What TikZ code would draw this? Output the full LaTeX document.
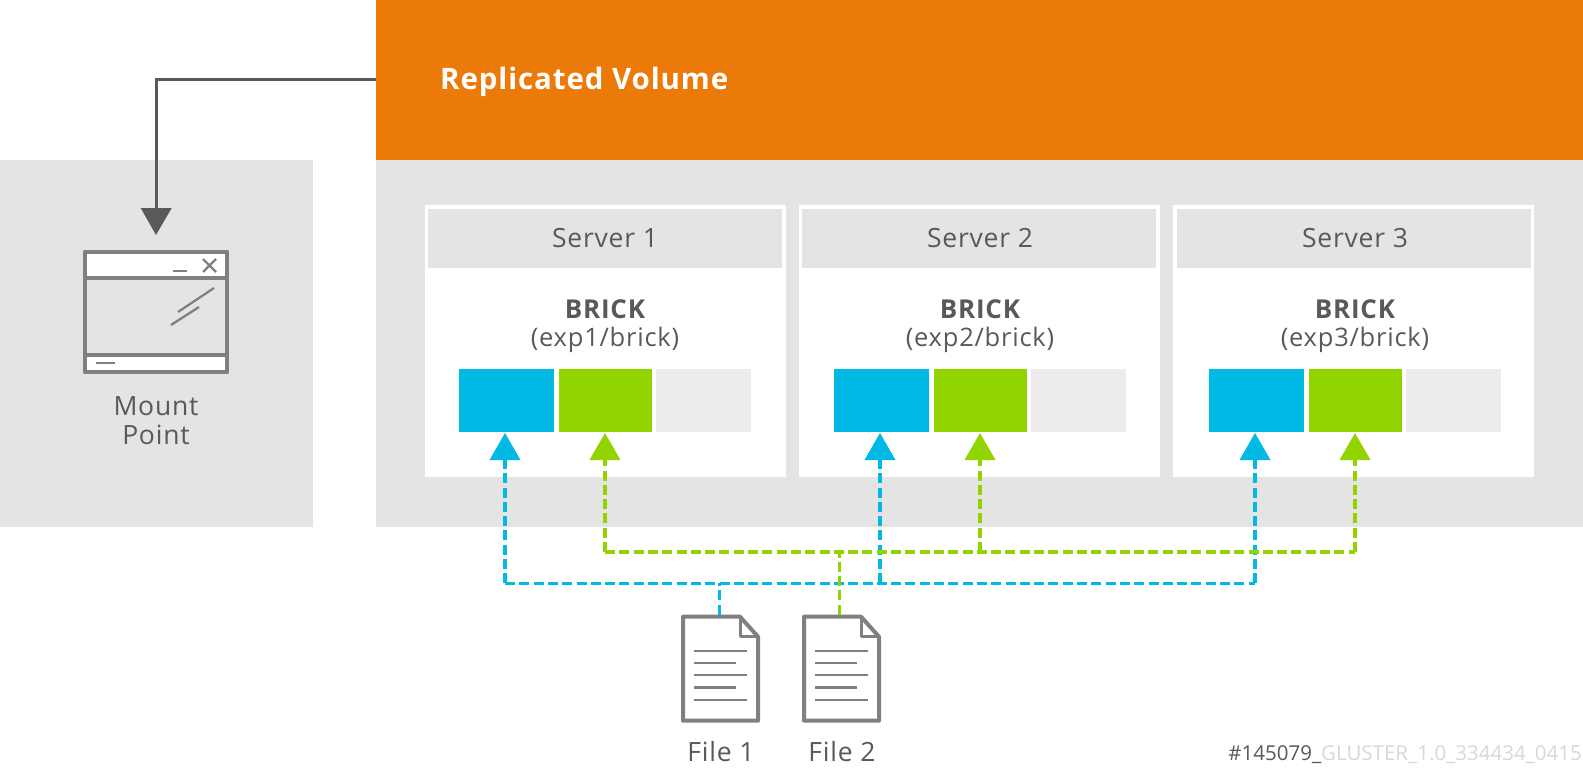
\documentclass[tikz,border=0pt]{standalone}
\usepackage{fontspec}
\setmainfont{Open Sans}
\newfontfamily\wide[LetterSpace=3]{Open Sans}
\definecolor{panel}{HTML}{E4E4E4}
\definecolor{orng}{HTML}{EC7A08}
\definecolor{blu}{HTML}{00B9E4}
\definecolor{grn}{HTML}{92D400}
\definecolor{lite}{HTML}{ECECEC}
\definecolor{ink}{HTML}{58595B}
\definecolor{icon}{HTML}{808080}
\definecolor{faint}{HTML}{D8D8D8}
\tikzset{
  fill box/.style={draw=none,inner sep=0pt,outer sep=0pt},
  lbl/.style={text=ink,inner sep=0pt,align=center,font=\wide\fontsize{26.5}{29}\selectfont},
  bold lbl/.style={text=ink,inner sep=0pt,font=\wide\fontsize{26}{30}\selectfont\bfseries},
  bluedash/.style={draw=blu,line width=3.2pt,dash pattern=on 10pt off 4.3pt},
  grndash/.style={draw=grn,line width=3.2pt,dash pattern=on 10pt off 4.3pt},
  iconline/.style={draw=icon,line width=2.3pt},
  iconbox/.style={draw=icon,line width=4pt,line join=round},
}
\newcommand{\bx}[6]{\node[fill box,fill=#1,minimum width=#4pt-#2pt,minimum height=#5pt-#3pt,anchor=north west] (#6) at (#2,#3) {};}
\begin{document}
\begin{tikzpicture}[x=1pt,y=-1pt]
\useasboundingbox (0,0) rectangle (1583,776);
\fill[white] (0,0) rectangle (1583,776);
\bx{panel}{0}{160}{312.7}{526.5}{leftpanel}
\bx{panel}{376}{160}{1583}{526.5}{mainpanel}
\bx{orng}{376}{0}{1583}{160}{volume}
\node[text=white,inner sep=0pt,anchor=west,font=\wide\fontsize{29.5}{32}\selectfont\bfseries] (voltitle) at (440,82) {Replicated Volume};

% servers
\foreach \n/\dx/\hx/\pth in {1/0/0/exp1,2/375/374.4/exp2,3/750/748.7/exp3}{
  \begin{scope}[shift={(\hx,0)}]
    \bx{white}{424.5}{205}{785.5}{477}{srv\n}
    \bx{panel}{428}{209}{782}{267.7}{head\n}
  \end{scope}
  \begin{scope}[shift={(\dx,0)}]
    \node[lbl] (title\n) at (605,238) {Server \n};
    \node[bold lbl] (brick\n) at (605,309) {BRICK};
    \node[lbl,font=\wide\fontsize{25.5}{28}\selectfont] (path\n) at (605,339.5) {(\pth/brick)};
    \bx{blu}{459}{369}{554.3}{432}{a\n}
    \bx{grn}{558.5}{369}{651.5}{432}{b\n}
    \bx{lite}{656}{369}{751}{432}{c\n}
    \fill[blu] (505,433) -- (520.5,460) -- (489.5,460) -- cycle;
    \fill[grn] (605,433) -- (620.5,460) -- (589.5,460) -- cycle;
    \coordinate (ta\n) at (505,460);
    \coordinate (tb\n) at (605,460);
  \end{scope}
}

% mount arrow
\coordinate (mnt) at (156,208);
\draw[draw=ink,line width=3pt] (volume.west |- 0,80) -- (156,80) -- (mnt);
\fill[ink] (156,235) -- (171.7,208) -- (140.7,208) -- cycle;

% window icon
\draw[iconbox,fill=white] (85.3,252) rectangle (227.3,278);
\draw[iconbox,fill=white] (85.3,355) rectangle (227.3,372);
\draw[iconbox] (85.3,252) rectangle (227.3,372);
\draw[iconline] (173,271) -- (187,271);
\draw[iconline] (203,259) -- (216,272) (216,259) -- (203,272);
\draw[iconline] (178,312) -- (214,288);
\draw[iconline] (171,325) -- (199,307);
\draw[iconline] (96,363) -- (115,363);
\node[lbl] (mount) at (156,421) {Mount\\Point};

% files
\foreach \n/\dx in {1/0,2/121}{
  \begin{scope}[shift={(\dx,0)}]
    \draw[iconbox,fill=white] (683,616.7) -- (740,616.7) -- (758,636.7) -- (758,720.7) -- (683,720.7) -- cycle;
    \draw[iconbox,line width=3pt] (740,616.7) -- (740,636.7) -- (758,636.7);
    \draw[iconline] (694.3,650.7) -- (746.7,650.7);
    \draw[iconline] (694.3,663) -- (736.3,663);
    \draw[iconline] (694.3,675.3) -- (746.7,675.3);
    \draw[iconline] (694.3,687.5) -- (736.3,687.5);
    \draw[iconline] (694.3,699.7) -- (746.7,699.7);
  \end{scope}
}
\coordinate (f1) at (719.3,614.7);
\coordinate (f2) at (839.3,614.7);
\node[lbl] (file1) at (721,752) {File 1};
\node[lbl] (file2) at (842,752) {File 2};

% dashed connectors
\draw[bluedash] (f1) -- (f1 |- 0,583.3);
\draw[bluedash] (ta1 |- 0,583.3) -- (ta3 |- 0,583.3);
\draw[bluedash] (ta1 |- 0,583.3) -- (ta1);
\draw[bluedash] (ta2 |- 0,583.3) -- (ta2);
\draw[bluedash] (ta3 |- 0,583.3) -- (ta3);
\draw[grndash] (f2) -- (f2 |- 0,552);
\draw[grndash] (tb1 |- 0,552) -- (tb3 |- 0,552);
\draw[grndash] (tb1 |- 0,552) -- (tb1);
\draw[grndash] (tb2 |- 0,552) -- (tb2);
\draw[grndash] (tb3 |- 0,552) -- (tb3);

\node[inner sep=0pt,anchor=east,font=\fontsize{20.5}{22}\selectfont] (code) at (1582,755) {\textcolor{ink}{\#145079\_}\textcolor{faint}{GLUSTER\_1.0\_334434\_0415}};
\end{tikzpicture}
\end{document}
